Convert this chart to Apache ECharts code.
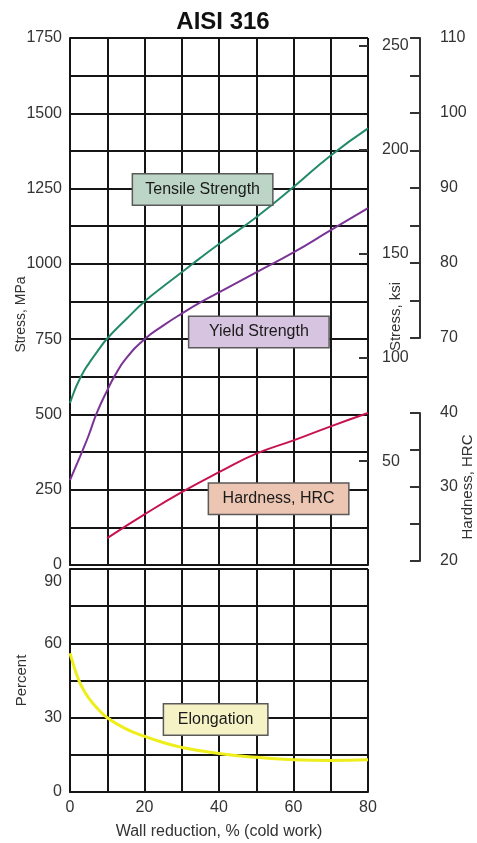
<!DOCTYPE html>
<html><head><meta charset="utf-8">
<script src="https://cdn.jsdelivr.net/npm/echarts@6/dist/echarts.min.js"></script>
<style>html,body{margin:0;padding:0;background:#fff}#c{width:477px;height:843px}</style>
</head><body><div id="c"></div>
<script>
// ---- data ----
const tensileX   = [0, 1, 2, 3.8, 5, 7.5, 10, 15, 20, 25, 30, 35, 40, 50, 60, 70, 80];
const tensileMPa = [538, 572, 602, 645, 668, 712, 752, 815, 875, 925, 972, 1020, 1066, 1155, 1255, 1360, 1450];
const yieldX     = [0, 2, 3.2, 5, 7.2, 10, 12, 15, 20, 25, 30, 35, 40, 50, 60, 70, 80];
const yieldMPa   = [282, 340, 375, 430, 505, 580, 628, 685, 750, 795, 835, 872, 905, 972, 1038, 1112, 1185];
const hardX      = [10, 20, 30, 40, 50, 60, 70, 80];
const hardHRC    = [23.1, 26.3, 29.3, 32.0, 34.5, 36.3, 38.2, 40.0];
const elongX     = [0, 1, 2, 3, 5, 7.5, 10, 15, 20, 25, 30, 40, 50, 60, 70, 80];
const elongPct   = [56, 51, 46.5, 43, 38, 33.5, 30, 25.5, 22.5, 20, 18, 15.5, 14, 13, 12.7, 13];
const mpaLabels  = [0, 250, 500, 750, 1000, 1250, 1500, 1750];
const ksiLabels  = [50, 100, 150, 200, 250];
const hrbLabels  = [70, 80, 90, 100, 110];
const hrcLabels  = [20, 30, 40];
const pctLabels  = [0, 30, 60, 90];
const xLabels    = [0, 20, 40, 60, 80];
const MPA_PER_KSI = 6.894757;

// ---- layout ----
const L = 70, R = 368, TOP = 38, MIDY = 565, BTOP = 569, BOT = 792;
const HRB_TOP = 38, HRB_BOT = 338, HRC_TOP = 413, HRC_BOT = 561;
const FF = '"Liberation Sans", Arial, sans-serif';
const BLK = '#151515';
const hrcPx = (HRC_BOT - HRC_TOP) / (40 - 20);
const hrcMin = 20 - (MIDY - HRC_BOT) / hrcPx;
const hrcMax = 40 + (HRC_TOP - TOP) / hrcPx;

const zip = (a, b) => a.map((v, i) => [v, b[i]]);
const lbl = {color: '#333', fontSize: 16, fontFamily: FF};
const nameStyle = (fs, pad) => ({color: '#333', fontSize: fs, fontFamily: FF, padding: pad || 0});
const boxLabel = (text, bg, w, px) => ({
  show: true, position: 'inside', formatter: text,
  backgroundColor: bg, borderColor: '#5a5a5a', borderWidth: 1.5,
  padding: [6, px], width: w, align: 'center', fontSize: 16, lineHeight: 18,
  color: '#1a1a1a', fontFamily: FF
});
const mp = (text, bg, w, px, coord) => ({
  symbol: 'rect', symbolSize: 1, itemStyle: {color: 'rgba(0,0,0,0)'},
  label: boxLabel(text, bg, w, px), data: [{coord: coord}], animation: false
});
const gridX = (gi, showLabels) => ({
  type: 'value', gridIndex: gi, min: 0, max: 80, interval: 10,
  axisLine: {show: true, lineStyle: {color: BLK, width: 2}},
  axisTick: {show: false},
  splitLine: {show: true, lineStyle: {color: BLK, width: 2}},
  axisLabel: showLabels ? Object.assign({margin: 8, formatter: v => xLabels.includes(v) ? String(v) : ''}, lbl) : {show: false}
});
const bracket = (gi, min, max, labels, extra) => Object.assign({
  type: 'value', gridIndex: gi, position: 'right', min: min, max: max, interval: 5,
  axisLine: {show: true, lineStyle: {color: '#333', width: 2}},
  axisTick: {show: true, inside: true, length: 10, lineStyle: {color: '#333', width: 2}},
  splitLine: {show: false},
  axisLabel: Object.assign({margin: 10, formatter: v => labels.includes(v) ? String(v) : ''}, lbl)
}, extra || {});
const lineSeries = (name, xi, yi, xs, ys, color, width, markPoint) => ({
  name: name, type: 'line', xAxisIndex: xi, yAxisIndex: yi, data: zip(xs, ys),
  smooth: 0.5, showSymbol: false, lineStyle: {color: color, width: width}, markPoint: markPoint
});

const option = {
  animation: false,
  backgroundColor: '#fff',
  title: {text: 'AISI 316', left: 218, top: 5, textAlign: 'center',
          textStyle: {fontSize: 24, fontWeight: 'bold', color: '#111', fontFamily: FF}},
  grid: [
    {left: L, top: TOP, width: R - L, height: MIDY - TOP, outerBoundsMode: 'none', containLabel: false},
    {left: L, top: BTOP, width: R - L, height: BOT - BTOP, outerBoundsMode: 'none', containLabel: false},
    {left: 420, top: HRB_TOP, width: 10, height: HRB_BOT - HRB_TOP, outerBoundsMode: 'none', containLabel: false},
    {left: 420, top: HRC_TOP, width: 10, height: HRC_BOT - HRC_TOP, outerBoundsMode: 'none', containLabel: false}
  ],
  xAxis: [
    gridX(0, false),
    Object.assign(gridX(1, true), {name: 'Wall reduction, % (cold work)', nameLocation: 'middle', nameGap: 32,
      nameMoveOverlap: false, nameTextStyle: nameStyle(16)}),
    {type: 'value', gridIndex: 2, show: false, min: 0, max: 1},
    {type: 'value', gridIndex: 3, show: false, min: 0, max: 1}
  ],
  yAxis: [
    {type: 'value', gridIndex: 0, position: 'left', min: 0, max: 1750, interval: 125,
     name: 'Stress, MPa', nameLocation: 'middle', nameGap: 42, nameRotate: 90, nameMoveOverlap: false,
     nameTextStyle: nameStyle(14, [0, 26, 0, 0]),
     axisLine: {show: true, lineStyle: {color: BLK, width: 2}},
     axisTick: {show: false},
     splitLine: {show: true, lineStyle: {color: BLK, width: 2}},
     axisLabel: Object.assign({margin: 8, formatter: v => mpaLabels.includes(v) ? String(v) : ''}, lbl)},
    {type: 'value', gridIndex: 0, position: 'right', min: 0, max: 1750 / MPA_PER_KSI, interval: 50,
     name: 'Stress, ksi', nameLocation: 'middle', nameGap: 20, nameRotate: 90, nameMoveOverlap: false,
     nameTextStyle: nameStyle(15, [0, 30, 0, 0]),
     axisLine: {show: false},
     axisTick: {show: true, inside: true, length: 9, lineStyle: {color: '#333', width: 2},
                customValues: ksiLabels},
     splitLine: {show: false},
     axisLabel: Object.assign({margin: 14, formatter: v => ksiLabels.includes(v) ? String(v) : ''}, lbl)},
    {type: 'value', gridIndex: 0, show: false, min: hrcMin, max: hrcMax},
    {type: 'value', gridIndex: 1, position: 'left', min: 0, max: 90, interval: 15,
     name: 'Percent', nameLocation: 'middle', nameGap: 41, nameRotate: 90, nameMoveOverlap: false,
     nameTextStyle: nameStyle(15),
     axisLine: {show: true, lineStyle: {color: BLK, width: 2}},
     axisTick: {show: false},
     splitLine: {show: true, lineStyle: {color: BLK, width: 2}},
     axisLabel: Object.assign({margin: 8,
       formatter: v => v === 90 ? '{d|90}' : (pctLabels.includes(v) ? String(v) : ''),
       rich: {d: {color: '#333', fontSize: 16, fontFamily: FF, padding: [26, 0, 0, 0]}}}, lbl)},
    bracket(2, 70, 110, hrbLabels),
    bracket(3, 20, 40, hrcLabels, {name: 'Hardness, HRC', nameLocation: 'middle', nameGap: 30, nameRotate: 90,
      nameMoveOverlap: false, nameTextStyle: nameStyle(15)})
  ],
  series: [
    lineSeries('Tensile Strength', 0, 0, tensileX, tensileMPa, '#23896b', 2,
      mp('Tensile Strength', '#bcd5c6', 113, 13, [35.6, 1247])),
    lineSeries('Yield Strength', 0, 0, yieldX, yieldMPa, '#7a3496', 2,
      mp('Yield Strength', '#d6c4e0', 113, 13, [50.7, 774])),
    lineSeries('Hardness, HRC', 0, 2, hardX, hardHRC, '#c8124f', 2,
      mp('Hardness, HRC', '#ecc6b3', 113, 13, [56.0, 28.4])),
    lineSeries('Elongation', 1, 3, elongX, elongPct, '#eeee1c', 3,
      mp('Elongation', '#f5f2c6', 79, 12, [39.1, 29.3]))
  ]
};
const chart = echarts.init(document.getElementById('c'), null, {renderer: 'canvas'});
chart.setOption(option);
</script></body></html>
